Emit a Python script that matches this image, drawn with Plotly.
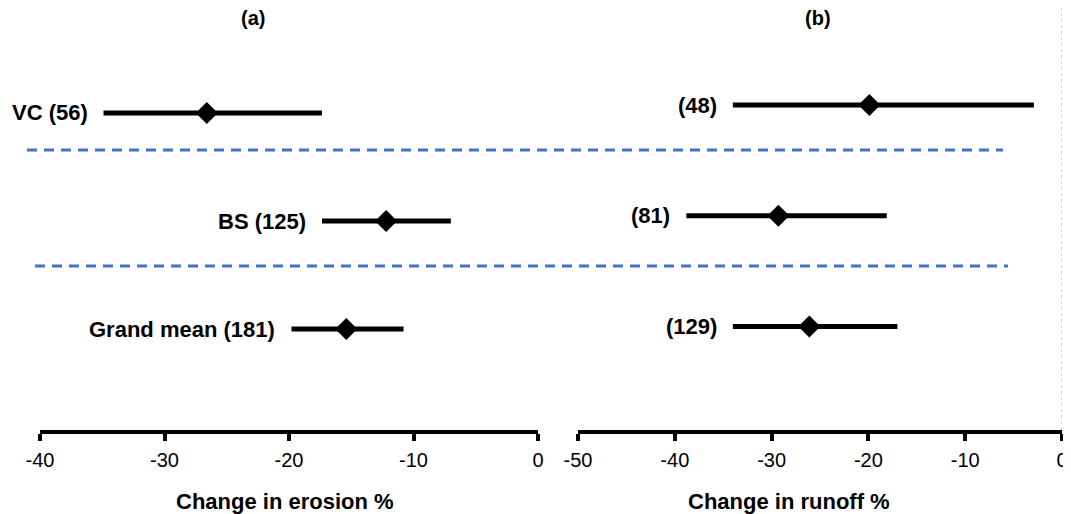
import plotly.graph_objects as go

# ---------------- data ----------------
rows = [3, 2, 1]  # row index top -> bottom

# panel (a): change in erosion %
erosion_labels = ["VC (56)", "BS (125)", "Grand mean (181)"]
erosion_mean = [-26.6, -12.2, -15.4]
erosion_lo = [-34.9, -17.35, -19.8]
erosion_hi = [-17.35, -7.0, -10.8]

# panel (b): change in runoff %
runoff_labels = ["(48)", "(81)", "(129)"]
runoff_mean = [-19.9, -29.3, -26.1]
runoff_lo = [-34.0, -38.8, -34.0]
runoff_hi = [-2.9, -18.1, -17.0]

left_ticks = [-40, -30, -20, -10, 0]
left_ticktext = ["-40", "-30", "-20", "-10", "0"]
right_ticks = [-50, -40, -30, -20, -10, 0]
right_ticktext = ["-50", "-40", "-30", "-20", "-10", "0"]

separator_rows = [2.657, 1.583]

# page has an 8px body margin: figure pixels = page pixels - 8
OFF = 8
W, H = 1063, 506
FONT = "Liberation Sans, Arial, sans-serif"


def px(p):
    return (p - OFF) / W


def py(p):
    return 1 - (p - OFF) / H


fig = go.Figure()


def add_panel(xa, ya, labels, mean, lo, hi):
    fig.add_trace(go.Scatter(
        x=mean, y=rows, xaxis=xa, yaxis=ya, mode="markers",
        marker=dict(symbol="diamond", size=17, color="black"),
        error_x=dict(type="data", symmetric=False,
                     array=[h - m for h, m in zip(hi, mean)],
                     arrayminus=[m - l for m, l in zip(mean, lo)],
                     thickness=5, width=0, color="black"),
        showlegend=False, hoverinfo="skip"))
    for lab, l, r in zip(labels, lo, rows):
        fig.add_annotation(x=l, y=r, xref=xa, yref=ya, text="<b>%s</b>" % lab,
                           showarrow=False, xanchor="right", yanchor="middle",
                           xshift=-14, font=dict(family=FONT, size=22, color="black"))


add_panel("x", "y", erosion_labels, erosion_mean, erosion_lo, erosion_hi)
add_panel("x2", "y2", runoff_labels, runoff_mean, runoff_lo, runoff_hi)

ydom = [py(430), 1]
axis_common = dict(showline=True, linewidth=4, linecolor="black", ticks="outside",
                   ticklen=7, tickwidth=4, tickcolor="black", showgrid=False,
                   zeroline=False, tickfont=dict(family=FONT, size=20, color="black"),
                   ticklabelstandoff=2, ticklabeloverflow="allow", automargin=False,
                   fixedrange=True)

fig.update_layout(
    width=W, height=H, margin=dict(l=0, r=0, t=0, b=0, autoexpand=False),
    paper_bgcolor="white", plot_bgcolor="white",
    xaxis=dict(domain=[px(40), px(538)], range=[-40, 0], tickvals=left_ticks,
               ticktext=left_ticktext, anchor="y", **axis_common),
    xaxis2=dict(domain=[px(578), px(1062)], range=[-50, 0], tickvals=right_ticks,
                ticktext=right_ticktext, anchor="y2", **axis_common),
    yaxis=dict(domain=ydom, range=[0.065, 3.972], visible=False, fixedrange=True),
    yaxis2=dict(domain=ydom, range=[0.065, 3.876], visible=False, fixedrange=True,
                anchor="x2"),
)

# separators
sep_x = [(px(27), px(1003)), (px(35), px(1008))]
for (x0, x1), yv in zip(sep_x, separator_rows):
    fig.add_shape(type="line", xref="paper", yref="y", x0=x0, x1=x1, y0=yv, y1=yv,
                  line=dict(color="#4472C4", width=3, dash="10px,7px"))

# dotted zero line on panel (b)
fig.add_shape(type="line", xref="x2", yref="paper", x0=0, x1=0, y0=ydom[0], y1=1,
              line=dict(color="#a8a8a8", width=1, dash="dot"))

# panel titles
for txt, xp in [("(a)", 253), ("(b)", 818)]:
    fig.add_annotation(x=px(xp), y=py(18), xref="paper", yref="paper",
                       text="<b>%s</b>" % txt, showarrow=False,
                       xanchor="center", yanchor="middle",
                       font=dict(family=FONT, size=20, color="black"))

# axis titles
for txt, xp in [("Change in erosion %", 285), ("Change in runoff %", 789)]:
    fig.add_annotation(x=px(xp), y=py(501), xref="paper", yref="paper",
                       text="<b>%s</b>" % txt, showarrow=False,
                       xanchor="center", yanchor="middle",
                       font=dict(family=FONT, size=22, color="black"))

fig.write_html("out.html")
